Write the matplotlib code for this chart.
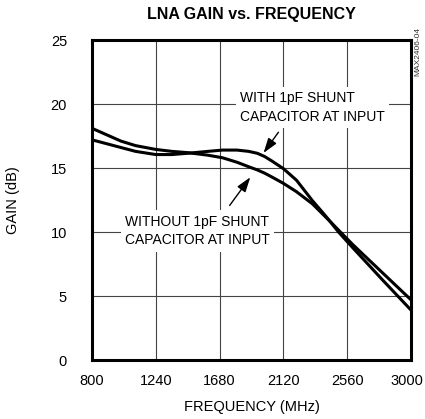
import numpy as np
import matplotlib
matplotlib.use("Agg")
import matplotlib.pyplot as plt
from matplotlib.transforms import ScaledTranslation

plt.rcParams['font.family'] = ['Liberation Sans', 'DejaVu Sans']

# frequency points (MHz)
freq = [800, 900, 1000, 1100, 1240, 1350, 1460, 1600, 1700, 1800, 1880, 1940, 1990,
        2040, 2080, 2120, 2210, 2320, 2400, 2440, 2500, 2600, 2800, 3000]
# with 1pF shunt capacitor (dip then hump)
gain_with = [17.2, 16.9, 16.6, 16.3, 16.05, 16.05, 16.15, 16.3, 16.4, 16.4, 16.3, 16.15, 15.9,
             15.55, 15.25, 14.95, 14.05, 12.45, 11.4, 10.85, 10.0, 8.75, 6.3, 3.9]
# without shunt capacitor
gain_without = [18.1, 17.6, 17.1, 16.75, 16.45, 16.3, 16.2, 16.0, 15.8, 15.45, 15.1, 14.85, 14.6,
                14.3, 14.05, 13.8, 13.15, 12.2, 11.3, 10.85, 10.15, 9.0, 6.85, 4.7]

xticks = [800, 1240, 1680, 2120, 2560, 3000]
yticks = [0, 5, 10, 15, 20, 25]

fig = plt.figure(figsize=(4.25, 4.19), dpi=100)
ax = fig.add_axes([92/425, 59/419, 319/425, 320/419])

ax.plot(freq, gain_with, color="black", lw=2.2, zorder=3)
ax.plot(freq, gain_without, color="black", lw=2.2, zorder=3)

ax.set_xlim(800, 3000)
ax.set_ylim(0, 25)
ax.set_xticks(xticks)
ax.set_yticks(yticks)
ax.tick_params(length=0, labelsize=10.5)
ax.tick_params(axis="x", pad=10)
ax.tick_params(axis="y", pad=18)
ax.grid(color="#444444", lw=0.8)
for s in ax.spines.values():
    s.set_linewidth(2.2)

# keep the last x label inside the figure
last = ax.get_xticklabels()[-1]
last.set_transform(last.get_transform() + ScaledTranslation(-4/100, 0, fig.dpi_scale_trans))

ax.set_xlabel("FREQUENCY (MHz)", fontsize=10.5, labelpad=9)
ax.set_ylabel("GAIN (dB)", fontsize=10.5, labelpad=22)
fig.text(251/425, 1 - 14/419, "LNA GAIN vs. FREQUENCY", fontsize=11.5,
         fontweight="bold", ha="center", va="center")
fig.text(418/425, 1 - 52/419, "MAX2406-04", fontsize=6, rotation=90,
         ha="center", va="center", color="#333333")

box = dict(facecolor="white", edgecolor="none", pad=3)
arrow = dict(arrowstyle="-|>,head_length=0.9,head_width=0.3", color="black", lw=1.0)
ax.text(1821, 19.73, "WITH 1pF SHUNT\nCAPACITOR AT INPUT", fontsize=10,
        ha="left", va="center", linespacing=1.45, bbox=box, zorder=4)
ax.annotate("", xy=(1972, 16.0), xytext=(2097, 17.97), arrowprops=arrow, zorder=4)
ax.text(1028, 10.08, "WITHOUT 1pF SHUNT\nCAPACITOR AT INPUT", fontsize=10,
        ha="left", va="center", linespacing=1.45, bbox=box, zorder=4)
ax.annotate("", xy=(1903, 14.45), xytext=(1738, 11.9), arrowprops=arrow, zorder=4)

fig.savefig("out.png", dpi=100)
